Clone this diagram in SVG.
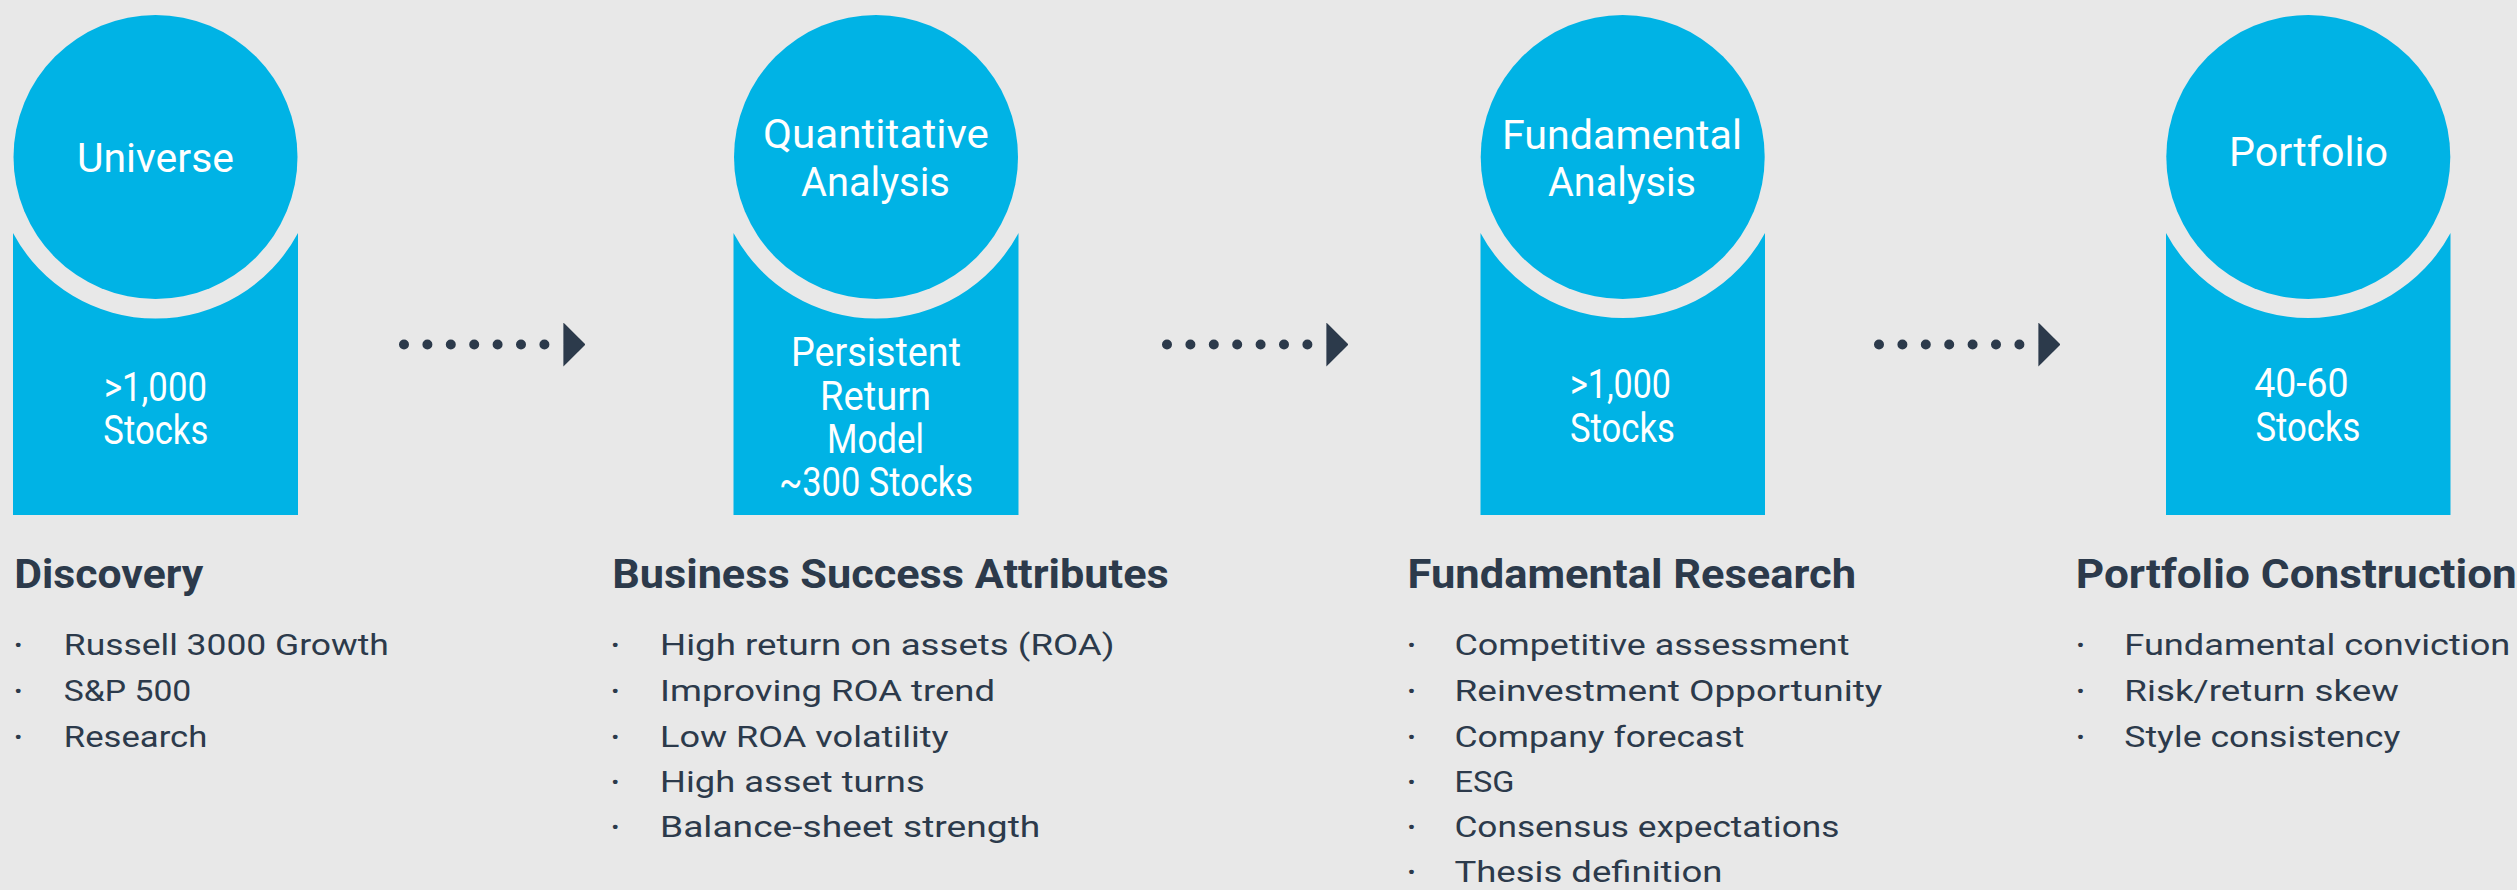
<svg xmlns="http://www.w3.org/2000/svg" width="2517" height="890" viewBox="0 0 2517 890">
<defs>
<style>
.bg{fill:#E8E8E8}
.blue{fill:#00B3E5}
.ct{font-family:Roboto,"Liberation Sans",sans-serif;font-size:41px;fill:#FFFFFF;text-anchor:middle}
.hd{font-family:Roboto,"Liberation Sans",sans-serif;font-size:40px;font-weight:700;fill:#2C3A4B}
.li{font-family:Roboto,"Liberation Sans",sans-serif;font-size:30px;fill:#2C3A4B}
.bu{font-family:Roboto,"Liberation Sans",sans-serif;font-size:30px;font-weight:700;fill:#2C3A4B;text-anchor:middle}
.dots{stroke:#2C3A4B;stroke-width:10;stroke-linecap:round;stroke-dasharray:0 23.4;fill:none}
</style>
<marker id="head" markerUnits="userSpaceOnUse" viewBox="0 0 22 44" refX="-19" refY="22" markerWidth="22" markerHeight="44" orient="auto">
<path d="M0,0 L22,22 L0,44 Z" fill="#2C3A4B"/>
</marker>
</defs>
<rect class="bg" x="0" y="0" width="2517" height="890"/>

<g id="connectors">
<line class="dots" x1="404" y1="344.5" x2="544.4" y2="344.5" marker-end="url(#head)"/>
<line class="dots" x1="1167" y1="344.5" x2="1307.4" y2="344.5" marker-end="url(#head)"/>
<line class="dots" x1="1879" y1="344.5" x2="2019.4" y2="344.5" marker-end="url(#head)"/>
</g>

<g id="node-universe">
<path class="blue" d="M13,233 L13,515 L298,515 L298,233 A161.5,161.5 0 0 1 13,233 Z"/>
<circle class="blue" cx="155.5" cy="157" r="142"/>
<text class="ct" x="155.5" y="172" textLength="157" lengthAdjust="spacingAndGlyphs">Universe</text>
<text class="ct" x="155.4" y="400.5" textLength="103" lengthAdjust="spacingAndGlyphs">&gt;1,000</text>
<text class="ct" x="155.8" y="444" textLength="105" lengthAdjust="spacingAndGlyphs">Stocks</text>
</g>

<g id="node-quantitative">
<path class="blue" d="M733.5,233 L733.5,515 L1018.5,515 L1018.5,233 A161.5,161.5 0 0 1 733.5,233 Z"/>
<circle class="blue" cx="876" cy="157" r="142"/>
<text class="ct" x="876" y="148" textLength="226" lengthAdjust="spacingAndGlyphs">Quantitative</text>
<text class="ct" x="875.4" y="196" textLength="149" lengthAdjust="spacingAndGlyphs">Analysis</text>
<text class="ct" x="876" y="366" textLength="170" lengthAdjust="spacingAndGlyphs">Persistent</text>
<text class="ct" x="875.6" y="410" textLength="111" lengthAdjust="spacingAndGlyphs">Return</text>
<text class="ct" x="875.5" y="453" textLength="97" lengthAdjust="spacingAndGlyphs">Model</text>
<text class="ct" x="875.9" y="496" textLength="194" lengthAdjust="spacingAndGlyphs">~300 Stocks</text>
</g>

<g id="node-fundamental">
<path class="blue" d="M1480.5,233 L1480.5,515 L1765,515 L1765,233 A161.5,161.5 0 0 1 1480.5,233 Z"/>
<circle class="blue" cx="1622.7" cy="157" r="142"/>
<text class="ct" x="1622" y="149" textLength="240" lengthAdjust="spacingAndGlyphs">Fundamental</text>
<text class="ct" x="1622" y="196" textLength="148" lengthAdjust="spacingAndGlyphs">Analysis</text>
<text class="ct" x="1620.5" y="398" textLength="101" lengthAdjust="spacingAndGlyphs">&gt;1,000</text>
<text class="ct" x="1622.5" y="441.5" textLength="105" lengthAdjust="spacingAndGlyphs">Stocks</text>
</g>

<g id="node-portfolio">
<path class="blue" d="M2166,233 L2166,515 L2450.5,515 L2450.5,233 A161.5,161.5 0 0 1 2166,233 Z"/>
<circle class="blue" cx="2308.3" cy="157" r="142"/>
<text class="ct" x="2308.5" y="166" textLength="159" lengthAdjust="spacingAndGlyphs">Portfolio</text>
<text class="ct" x="2301.4" y="396.7" textLength="94.5" lengthAdjust="spacingAndGlyphs">40-60</text>
<text class="ct" x="2307.9" y="440.8" textLength="105" lengthAdjust="spacingAndGlyphs">Stocks</text>
</g>

<g id="text-discovery">
<text class="hd" x="14.3" y="587.7" textLength="189" lengthAdjust="spacingAndGlyphs">Discovery</text>
<text class="bu" x="18.3" y="655">·</text>
<text class="li" x="63.8" y="655" textLength="325" lengthAdjust="spacingAndGlyphs">Russell 3000 Growth</text>
<text class="bu" x="18.3" y="701">·</text>
<text class="li" x="63.8" y="701" textLength="127.5" lengthAdjust="spacingAndGlyphs">S&amp;P 500</text>
<text class="bu" x="18.3" y="746.7">·</text>
<text class="li" x="63.8" y="746.7" textLength="143.5" lengthAdjust="spacingAndGlyphs">Research</text>
</g>

<g id="text-business">
<text class="hd" x="612.2" y="587.7" textLength="556.5" lengthAdjust="spacingAndGlyphs">Business Success Attributes</text>
<text class="bu" x="615.4" y="655">·</text>
<text class="li" x="660" y="655" textLength="454.5" lengthAdjust="spacingAndGlyphs">High return on assets (ROA)</text>
<text class="bu" x="615.4" y="701">·</text>
<text class="li" x="660" y="701" textLength="335" lengthAdjust="spacingAndGlyphs">Improving ROA trend</text>
<text class="bu" x="615.4" y="746.7">·</text>
<text class="li" x="660" y="746.7" textLength="288.6" lengthAdjust="spacingAndGlyphs">Low ROA volatility</text>
<text class="bu" x="615.4" y="791.7">·</text>
<text class="li" x="660" y="791.7" textLength="264.7" lengthAdjust="spacingAndGlyphs">High asset turns</text>
<text class="bu" x="615.4" y="836.7">·</text>
<text class="li" x="660" y="836.7" textLength="380.3" lengthAdjust="spacingAndGlyphs">Balance-sheet strength</text>
</g>

<g id="text-research">
<text class="hd" x="1407.6" y="587.7" textLength="448.5" lengthAdjust="spacingAndGlyphs">Fundamental Research</text>
<text class="bu" x="1411.6" y="655">·</text>
<text class="li" x="1454.4" y="655" textLength="395" lengthAdjust="spacingAndGlyphs">Competitive assessment</text>
<text class="bu" x="1411.6" y="701">·</text>
<text class="li" x="1454.4" y="701" textLength="428" lengthAdjust="spacingAndGlyphs">Reinvestment Opportunity</text>
<text class="bu" x="1411.6" y="746.7">·</text>
<text class="li" x="1454.4" y="746.7" textLength="290" lengthAdjust="spacingAndGlyphs">Company forecast</text>
<text class="bu" x="1411.6" y="791.7">·</text>
<text class="li" x="1454.4" y="791.7" textLength="60" lengthAdjust="spacingAndGlyphs">ESG</text>
<text class="bu" x="1411.6" y="836.7">·</text>
<text class="li" x="1454.4" y="836.7" textLength="385" lengthAdjust="spacingAndGlyphs">Consensus expectations</text>
<text class="bu" x="1411.6" y="882.2">·</text>
<text class="li" x="1454.4" y="882.2" textLength="268" lengthAdjust="spacingAndGlyphs">Thesis definition</text>
</g>

<g id="text-construction">
<text class="hd" x="2075.8" y="587.7" textLength="441" lengthAdjust="spacingAndGlyphs">Portfolio Construction</text>
<text class="bu" x="2080.6" y="655">·</text>
<text class="li" x="2124.3" y="655" textLength="386" lengthAdjust="spacingAndGlyphs">Fundamental conviction</text>
<text class="bu" x="2080.6" y="701">·</text>
<text class="li" x="2124.3" y="701" textLength="274.7" lengthAdjust="spacingAndGlyphs">Risk/return skew</text>
<text class="bu" x="2080.6" y="746.7">·</text>
<text class="li" x="2124.3" y="746.7" textLength="276" lengthAdjust="spacingAndGlyphs">Style consistency</text>
</g>
</svg>
